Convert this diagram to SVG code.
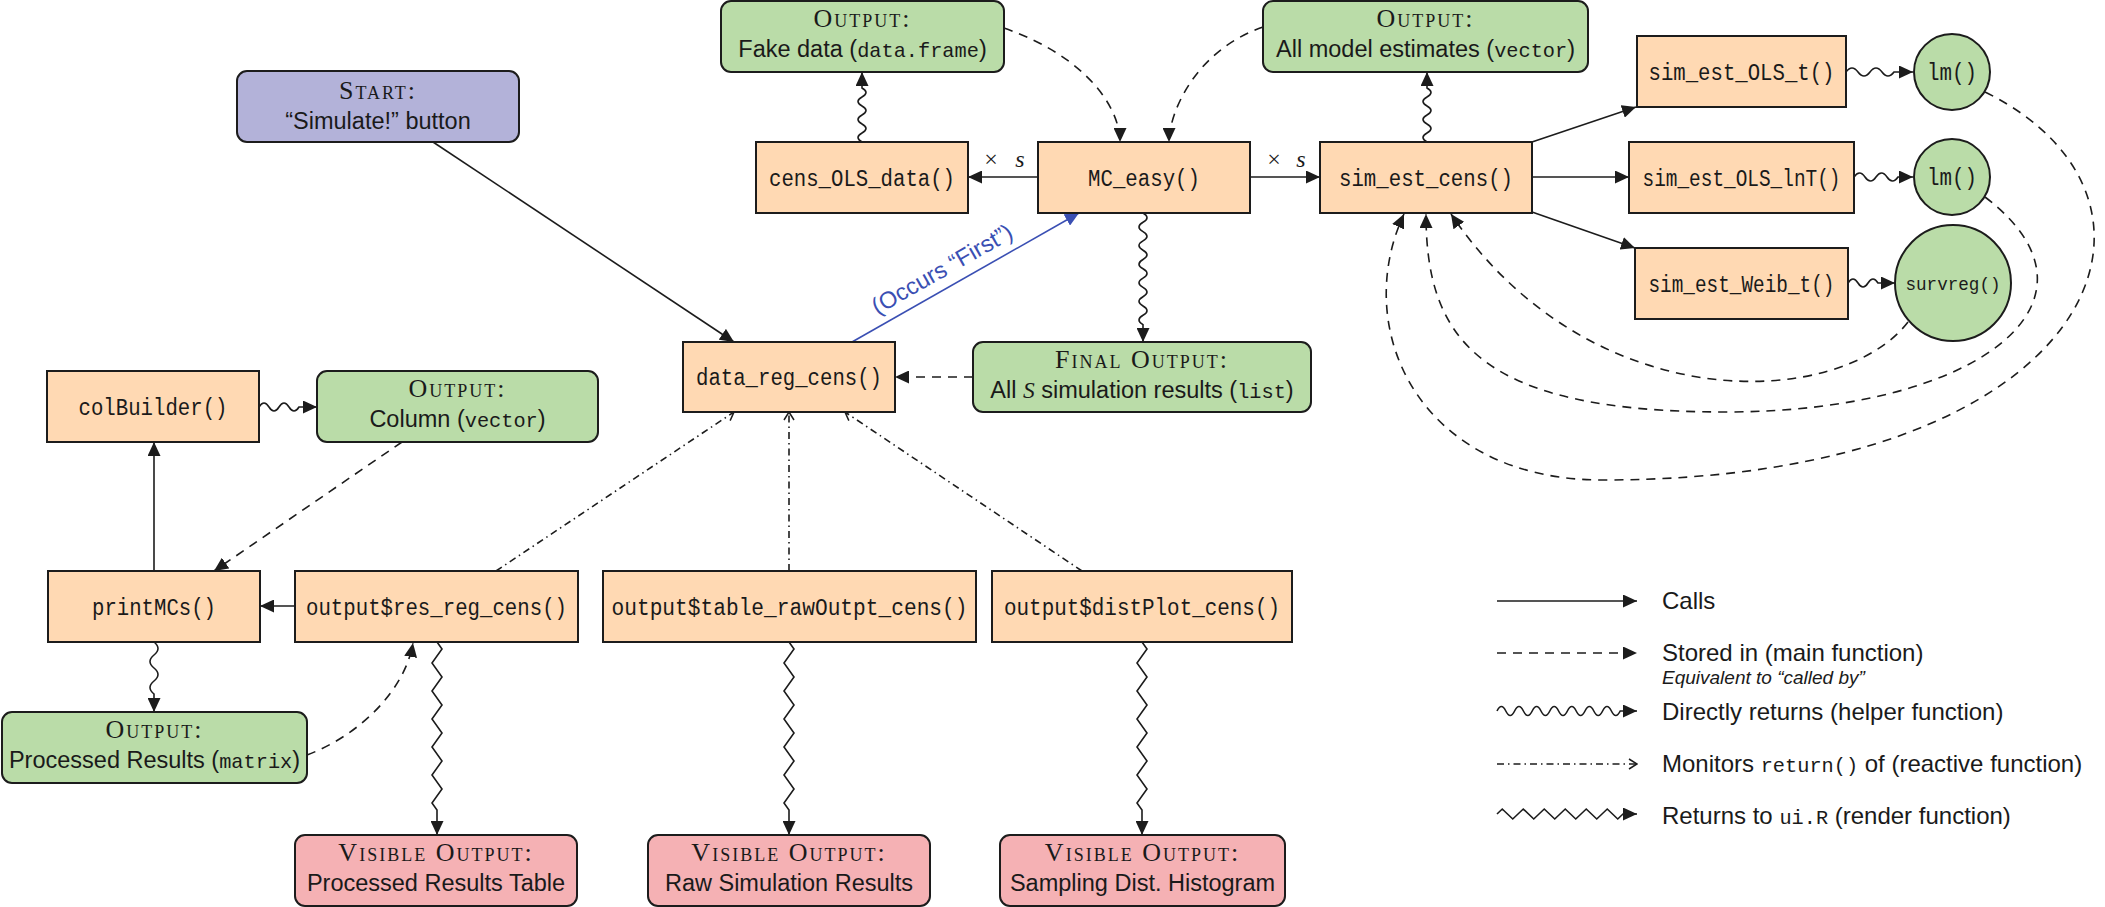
<svg xmlns="http://www.w3.org/2000/svg" width="2105" height="907" viewBox="0 0 2105 907">
<defs>
<style>
.box{stroke:#1c1c1c;stroke-width:2}
.fn{fill:#ffd9b3}
.out{fill:#badca8}
.vis{fill:#f5b1b4}
.st{fill:#b3b2d9}
.mono{font-family:"Liberation Mono","DejaVu Sans Mono",monospace;font-size:23px;fill:#1a1a1a}
.sans{font-family:"Liberation Sans",Arial,sans-serif;font-size:23.5px;fill:#1a1a1a}
.sc{font-family:"Liberation Serif","Times New Roman",serif;font-size:26px;font-variant:small-caps;letter-spacing:2px;fill:#1a1a1a}
.m{font-family:"Liberation Mono","DejaVu Sans Mono",monospace;font-size:20.3px}
.c{text-anchor:middle}
.ln{fill:none;stroke:#1c1c1c;stroke-width:1.6}
.dash{stroke-dasharray:9 7}
.dd{stroke-dasharray:7 4 1.5 4}
.arr{marker-end:url(#ah)}
.oarr{marker-end:url(#oh)}
.leg{font-family:"Liberation Sans",Arial,sans-serif;font-size:24px;fill:#1a1a1a}
.math{font-family:"Liberation Serif","Times New Roman",serif;font-size:24px;fill:#1a1a1a}
</style>
<marker id="ah" viewBox="0 0 14 13" refX="14" refY="6.5" markerWidth="14" markerHeight="13" markerUnits="userSpaceOnUse" orient="auto"><path d="M0,0 L14,6.5 L0,13 z" fill="#1c1c1c"/></marker>
<marker id="bh" viewBox="0 0 14 13" refX="14" refY="6.5" markerWidth="14" markerHeight="13" markerUnits="userSpaceOnUse" orient="auto"><path d="M0,0 L14,6.5 L0,13 z" fill="#3a4fb3"/></marker>
<marker id="oh" viewBox="0 0 10 12" refX="9" refY="6" markerWidth="10" markerHeight="12" markerUnits="userSpaceOnUse" orient="auto"><path d="M1,1 L9,6 L1,11" fill="none" stroke="#1c1c1c" stroke-width="1.5"/></marker>
</defs>
<rect width="2105" height="907" fill="#ffffff"/>

<g id="connectors">
<path class="ln arr" d="M433,142 L734,342"/>
<path class="ln arr" d="M1038,177 L968,177"/>
<path class="ln arr" d="M1250,177 L1320,177"/>
<path class="ln arr" d="M154,571 L154,442"/>
<path class="ln arr" d="M295,606 L260,606"/>
<path class="ln arr" d="M1532,142 L1636,107"/>
<path class="ln arr" d="M1532,177 L1629,177"/>
<path class="ln arr" d="M1532,212 L1635,248"/>
<path d="M852,342 L1079,213" fill="none" stroke="#3a4fb3" stroke-width="1.6" marker-end="url(#bh)"/>
<text class="sans" style="fill:#3a4fb3" text-anchor="middle" transform="translate(946,276) rotate(-29.6)">(Occurs “First”)</text>
<text class="math c" x="991" y="167">×</text>
<text class="math c" x="1020" y="167" font-style="italic">s</text>
<text class="math c" x="1274" y="167">×</text>
<text class="math c" x="1301" y="167" font-style="italic">s</text>
<path class="ln dash arr" d="M1004,28 C1087,57 1120,108 1120,142"/>
<path class="ln dash arr" d="M1263,27 C1194,51 1169,114 1169,142"/>
<path class="ln dash arr" d="M973,377 L895,377"/>
<path class="ln dash arr" d="M402,442 L214,571"/>
<path class="ln dash arr" d="M307,755 C360,735 405,690 413,643"/>
<path class="ln dash arr" d="M1985,92 C2205,200 2100,480 1602,480 C1420,480 1350,330 1404,214"/>
<path class="ln dash arr" d="M1985,197 C2120,300 1980,412 1725,412 C1480,412 1426,340 1426,214"/>
<path class="ln dash arr" d="M1908,322 C1840,410 1590,420 1451,214"/>
<path class="ln dd oarr" d="M496,571 L734,412"/>
<path class="ln dd oarr" d="M789,571 L789,412"/>
<path class="ln dd oarr" d="M1082,571 L845,412"/>
<path class="ln arr" d="M862,142 q-8,-4.5 0,-9 t0,-9 t0,-9 t0,-9 t0,-9 t0,-9 L862,72"/>
<path class="ln arr" d="M1427,142 q-8,-4.5 0,-9 t0,-9 t0,-9 t0,-9 t0,-9 t0,-9 L1427,72"/>
<path class="ln arr" d="M1143,213 q8,4.65 0,9.3 t0,9.3 t0,9.3 t0,9.3 t0,9.3 t0,9.3 t0,9.3 t0,9.3 t0,9.3 t0,9.3 t0,9.3 t0,9.3 L1143,342"/>
<path class="ln arr" d="M259,407 q5,-8 10,0 t10,0 t10,0 t10,0 L317,407"/>
<path class="ln arr" d="M154,642 q8,6.5 0,13 t0,13 t0,13 t0,13 L154,712"/>
<path class="ln arr" d="M1846,72 q6,-8 12,0 t12,0 t12,0 t12,0 L1913,72"/>
<path class="ln arr" d="M1854,177 q5.5,-8 11,0 t11,0 t11,0 t11,0 L1913,177"/>
<path class="ln arr" d="M1848,283 q5,-8 10,0 t10,0 t10,0 L1895,283"/>
<path class="ln arr" d="M437,642 l5,7 l-10,14 l10,14 l-10,14 l10,14 l-10,14 l10,14 l-10,14 l10,14 l-10,14 l10,14 l-10,14 l5,7 L437,835"/>
<path class="ln arr" d="M789,642 l5,7 l-10,14 l10,14 l-10,14 l10,14 l-10,14 l10,14 l-10,14 l10,14 l-10,14 l10,14 l-10,14 l5,7 L789,835"/>
<path class="ln arr" d="M1142,642 l5,7 l-10,14 l10,14 l-10,14 l10,14 l-10,14 l10,14 l-10,14 l10,14 l-10,14 l10,14 l-10,14 l5,7 L1142,835"/>
</g>

<g id="start"><rect class="box st" x="237" y="71" width="282" height="71" rx="10"/><text class="sc c" x="378" y="99">Start:</text><text class="sans c" x="378" y="129">“Simulate!” button</text></g>
<g id="fakeData"><rect class="box out" x="721" y="1" width="283" height="71" rx="10"/><text class="sc c" x="862.5" y="27">Output:</text><text class="sans c" x="862.5" y="57">Fake data (<tspan class="m">data.frame</tspan>)</text></g>
<g id="allEst"><rect class="box out" x="1263" y="1" width="325" height="71" rx="10"/><text class="sc c" x="1425.5" y="27">Output:</text><text class="sans c" x="1425.5" y="57">All model estimates (<tspan class="m">vector</tspan>)</text></g>
<g id="censOLSdata"><rect class="box fn" x="756" y="142" width="212" height="71"/><text class="mono c" x="862" y="185.5" textLength="186" lengthAdjust="spacingAndGlyphs">cens_OLS_data()</text></g>
<g id="mcEasy"><rect class="box fn" x="1038" y="142" width="212" height="71"/><text class="mono c" x="1144" y="185.5" textLength="112" lengthAdjust="spacingAndGlyphs">MC_easy()</text></g>
<g id="simEstCens"><rect class="box fn" x="1320" y="142" width="212" height="71"/><text class="mono c" x="1426" y="185.5" textLength="174" lengthAdjust="spacingAndGlyphs">sim_est_cens()</text></g>
<g id="simOLSt"><rect class="box fn" x="1637" y="36" width="209" height="71"/><text class="mono c" x="1741.5" y="79.5" textLength="186" lengthAdjust="spacingAndGlyphs">sim_est_OLS_t()</text></g>
<g id="simOLSlnT"><rect class="box fn" x="1629" y="142" width="225" height="71"/><text class="mono c" x="1741.5" y="185.5" textLength="198" lengthAdjust="spacingAndGlyphs">sim_est_OLS_lnT()</text></g>
<g id="simWeib"><rect class="box fn" x="1635" y="248" width="213" height="71"/><text class="mono c" x="1741.5" y="291.5" textLength="186" lengthAdjust="spacingAndGlyphs">sim_est_Weib_t()</text></g>
<g id="lm1"><circle class="box out" cx="1952" cy="72" r="38"/><text class="mono c" x="1952" y="80" textLength="50" lengthAdjust="spacingAndGlyphs">lm()</text></g>
<g id="lm2"><circle class="box out" cx="1952" cy="177" r="38"/><text class="mono c" x="1952" y="185" textLength="50" lengthAdjust="spacingAndGlyphs">lm()</text></g>
<g id="survreg"><ellipse class="box out" cx="1953" cy="283" rx="58" ry="58"/><text class="mono c" x="1953" y="289.5" style="font-size:19px" textLength="95" lengthAdjust="spacingAndGlyphs">survreg()</text></g>
<g id="dataRegCens"><rect class="box fn" x="683" y="342" width="212" height="70"/><text class="mono c" x="789" y="385" textLength="186" lengthAdjust="spacingAndGlyphs">data_reg_cens()</text></g>
<g id="finalOut"><rect class="box out" x="973" y="342" width="338" height="70" rx="10"/><text class="sc c" x="1142" y="368">Final Output:</text><text class="sans c" x="1142" y="398">All <tspan font-family="Liberation Serif" font-style="italic">S</tspan> simulation results (<tspan class="m">list</tspan>)</text></g>
<g id="colBuilder"><rect class="box fn" x="47" y="371" width="212" height="71"/><text class="mono c" x="153" y="414.5" textLength="149" lengthAdjust="spacingAndGlyphs">colBuilder()</text></g>
<g id="colOut"><rect class="box out" x="317" y="371" width="281" height="71" rx="10"/><text class="sc c" x="457.5" y="397">Output:</text><text class="sans c" x="457.5" y="427">Column (<tspan class="m">vector</tspan>)</text></g>
<g id="printMCs"><rect class="box fn" x="48" y="571" width="212" height="71"/><text class="mono c" x="154" y="614.5" textLength="124" lengthAdjust="spacingAndGlyphs">printMCs()</text></g>
<g id="resRegCens"><rect class="box fn" x="295" y="571" width="283" height="71"/><text class="mono c" x="436.5" y="614.5" textLength="261" lengthAdjust="spacingAndGlyphs">output$res_reg_cens()</text></g>
<g id="tableRaw"><rect class="box fn" x="603" y="571" width="373" height="71"/><text class="mono c" x="789.5" y="614.5" textLength="356" lengthAdjust="spacingAndGlyphs">output$table_rawOutpt_cens()</text></g>
<g id="distPlot"><rect class="box fn" x="992" y="571" width="300" height="71"/><text class="mono c" x="1142" y="614.5" textLength="276" lengthAdjust="spacingAndGlyphs">output$distPlot_cens()</text></g>
<g id="procOut"><rect class="box out" x="2" y="712" width="305" height="71" rx="10"/><text class="sc c" x="154.5" y="738">Output:</text><text class="sans c" x="154.5" y="768">Processed Results (<tspan class="m">matrix</tspan>)</text></g>
<g id="vis1"><rect class="box vis" x="295" y="835" width="282" height="71" rx="10"/><text class="sc c" x="436" y="861">Visible Output:</text><text class="sans c" x="436" y="891">Processed Results Table</text></g>
<g id="vis2"><rect class="box vis" x="648" y="835" width="282" height="71" rx="10"/><text class="sc c" x="789" y="861">Visible Output:</text><text class="sans c" x="789" y="891">Raw Simulation Results</text></g>
<g id="vis3"><rect class="box vis" x="1000" y="835" width="285" height="71" rx="10"/><text class="sc c" x="1142.5" y="861">Visible Output:</text><text class="sans c" x="1142.5" y="891">Sampling Dist. Histogram</text></g>

<g id="legend">
<path class="ln arr" d="M1497,601 L1637,601"/>
<text class="leg" x="1662" y="609">Calls</text>
<path class="ln dash arr" d="M1497,653 L1637,653"/>
<text class="leg" x="1662" y="661">Stored in (main function)</text>
<text class="leg" x="1662" y="684" style="font-size:19px;font-style:italic">Equivalent to “called by”</text>
<path class="ln arr" d="M1497,711 q4.4,-9 8.8,0 t8.8,0 t8.8,0 t8.8,0 t8.8,0 t8.8,0 t8.8,0 t8.8,0 t8.8,0 t8.8,0 t8.8,0 t8.8,0 t8.8,0 t8.8,0 L1637,711"/>
<text class="leg" x="1662" y="720">Directly returns (helper function)</text>
<path class="ln dd oarr" d="M1497,764 L1637,764"/>
<text class="leg" x="1662" y="772">Monitors <tspan class="m">return()</tspan> of (reactive function)</text>
<path class="ln arr" d="M1497,814 l5.25,-5 l10.5,10 l10.5,-10 l10.5,10 l10.5,-10 l10.5,10 l10.5,-10 l10.5,10 l10.5,-10 l10.5,10 l10.5,-10 l10.5,10 l5.25,-5 L1637,814"/>
<text class="leg" x="1662" y="824">Returns to <tspan class="m">ui.R</tspan> (render function)</text>
</g>
</svg>
